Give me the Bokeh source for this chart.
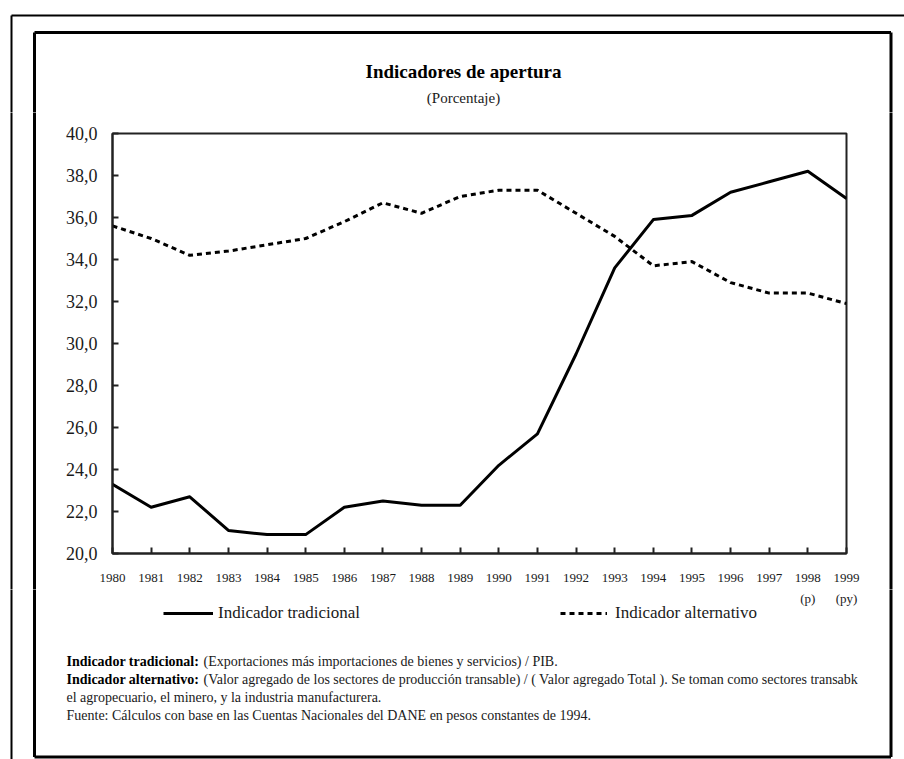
from bokeh.plotting import figure
from bokeh.layouts import column, row
from bokeh.models import FixedTicker, Label, Legend, LegendItem, ColumnDataSource, Range1d
from bokeh.embed import file_html
from bokeh.resources import INLINE

# ---------------- data ----------------
years = list(range(1980, 2000))
tradicional = [23.3, 22.2, 22.7, 21.1, 20.9, 20.9, 22.2, 22.5, 22.3, 22.3,
               24.2, 25.7, 29.5, 33.6, 35.9, 36.1, 37.2, 37.7, 38.2, 36.9]
alternativo = [35.6, 35.0, 34.2, 34.4, 34.7, 35.0, 35.8, 36.7, 36.2, 37.0,
               37.3, 37.3, 36.2, 35.1, 33.7, 33.9, 32.9, 32.4, 32.4, 31.9]
y_ticks = [20, 22, 24, 26, 28, 30, 32, 34, 36, 38, 40]
y_tick_labels = ["20,0", "22,0", "24,0", "26,0", "28,0", "30,0",
                 "32,0", "34,0", "36,0", "38,0", "40,0"]
x_sub_years = [1998, 1999]
x_sub_labels = ["(p)", "(py)"]
title_text = "Indicadores de apertura"
subtitle_text = "(Porcentaje)"
series_names = ["Indicador tradicional", "Indicador alternativo"]
note_bold = ["Indicador tradicional:", "Indicador alternativo:"]
note_rest = ["(Exportaciones más importaciones de bienes y servicios) / PIB.",
             "(Valor agregado de los sectores de producción transable) / ( Valor agregado Total ). Se toman como sectores transabk"]
note_lines = ["el agropecuario, el minero, y la industria manufacturera.",
              "Fuente: Cálculos con base en las Cuentas Nacionales del DANE en pesos constantes de 1994."]

SERIF = "Liberation Serif"
INK = "#1a1a1a"
W = 904
HEAD_H, MID_H, FOOT_H = 112, 477, 170
MID_Y0 = HEAD_H
FOOT_Y0 = HEAD_H + MID_H
LEFT_W, RIGHT_W = 45, 34
CHART_W = W - LEFT_W - RIGHT_W
FRAME_L, FRAME_R, FRAME_T, FRAME_B = 112, 846, 133, 553   # chart frame (page px)
OUT_X, OUT_Y = 11, 15                                      # outer page lines
IN_X0, IN_Y0, IN_X1, IN_Y1 = 34, 32, 890.5, 756.5          # inner page box


def blank(width, height, xr, yr):
    f = figure(width=width, height=height, output_backend="svg", toolbar_location=None,
               x_range=xr, y_range=yr, x_axis_type=None, y_axis_type=None,
               min_border=0, frame_align=False)
    f.outline_line_color = None
    f.background_fill_color = "white"
    f.border_fill_color = "white"
    f.xgrid.visible = False
    f.ygrid.visible = False
    return f


# ---------------- header ----------------
head = blank(W, HEAD_H, Range1d(0, W), Range1d(HEAD_H, 0))
head.segment(x0=[OUT_X, OUT_X], y0=[OUT_Y, OUT_Y], x1=[W + 5, OUT_X], y1=[OUT_Y, HEAD_H + 5],
             line_color="black", line_width=2)
head.segment(x0=[IN_X0, IN_X0, IN_X1], y0=[IN_Y0, IN_Y0, IN_Y0], x1=[IN_X1, IN_X0, IN_X1],
             y1=[IN_Y0, HEAD_H + 5, HEAD_H + 5], line_color="black", line_width=3)
head.add_layout(Label(x=463, y=71, text=title_text, text_font=SERIF, text_font_size="19px",
                      text_font_style="bold", text_color="black",
                      text_align="center", text_baseline="middle"))
head.add_layout(Label(x=463, y=97, text=subtitle_text, text_font=SERIF, text_font_size="15px",
                      text_color=INK, text_align="center", text_baseline="middle"))

# ---------------- side strips ----------------
left = blank(LEFT_W, MID_H, Range1d(0, LEFT_W), Range1d(MID_H, 0))
left.segment(x0=[OUT_X], y0=[-5], x1=[OUT_X], y1=[MID_H + 5], line_color="black", line_width=2)
left.segment(x0=[IN_X0], y0=[-5], x1=[IN_X0], y1=[MID_H + 5], line_color="black", line_width=3)
right = blank(RIGHT_W, MID_H, Range1d(0, RIGHT_W), Range1d(MID_H, 0))
rx = IN_X1 - (W - RIGHT_W)
right.segment(x0=[rx], y0=[-5], x1=[rx], y1=[MID_H + 5], line_color="black", line_width=3)

# ---------------- chart ----------------
p = figure(width=CHART_W, height=MID_H, output_backend="svg", toolbar_location=None,
           x_range=(years[0], years[-1]), y_range=(y_ticks[0], y_ticks[-1]),
           min_border_left=FRAME_L - LEFT_W, min_border_right=(W - RIGHT_W) - FRAME_R,
           min_border_top=FRAME_T - MID_Y0, min_border_bottom=FOOT_Y0 - FRAME_B,
           frame_align=False)
p.background_fill_color = "white"
p.border_fill_color = "white"
p.outline_line_color = "#222222"
p.outline_line_width = 2
p.xgrid.visible = False
p.ygrid.visible = False

src = ColumnDataSource(dict(year=years, trad=tradicional, alt=alternativo))
r1 = p.line("year", "trad", source=src, line_color="black", line_width=3, line_join="round")
r2 = p.line("year", "alt", source=src, line_color="black", line_width=3, line_dash="5 4")

for ax in (p.xaxis[0], p.yaxis[0]):
    ax.axis_line_color = "#222222"
    ax.axis_line_width = 2
    ax.major_tick_line_color = "#222222"
    ax.major_tick_line_width = 2
    ax.major_tick_in = 6
    ax.major_tick_out = 0
    ax.minor_tick_line_color = None
    ax.major_label_text_font = SERIF
    ax.major_label_text_color = INK

p.yaxis.ticker = FixedTicker(ticks=y_ticks)
p.yaxis.major_label_overrides = {t: l for t, l in zip(y_ticks, y_tick_labels)}
p.yaxis.major_label_text_font_size = "18px"
p.yaxis.major_label_standoff = 15

p.xaxis.ticker = FixedTicker(ticks=years)
p.xaxis.major_label_overrides = {y: str(y) for y in years}
p.xaxis.major_label_text_font_size = "13px"
p.xaxis.major_label_standoff = 20

# ---------------- footer ----------------
px_per_year = (FRAME_R - FRAME_L) / (years[-1] - years[0])
foot = blank(W, FOOT_H,
             Range1d(years[0] - FRAME_L / px_per_year, years[-1] + (W - FRAME_R) / px_per_year),
             Range1d(FOOT_H, 0))
foot.extra_x_ranges = {"px": Range1d(0, W)}
foot.segment(x0=[OUT_X], y0=[-5], x1=[OUT_X], y1=[FOOT_H + 5], x_range_name="px",
             line_color="black", line_width=2)
by = IN_Y1 - FOOT_Y0
foot.segment(x0=[IN_X0, IN_X1, IN_X0], y0=[-5, -5, by], x1=[IN_X0, IN_X1, IN_X1], y1=[by, by, by],
             x_range_name="px", line_color="black", line_width=3)

for yr, lab in zip(x_sub_years, x_sub_labels):
    foot.add_layout(Label(x=yr, y=598 - FOOT_Y0, text=lab, text_font=SERIF, text_font_size="13px",
                          text_color=INK, text_align="center", text_baseline="middle"))

nan = float("nan")
e1 = foot.line(x=[nan, nan], y=[nan, nan], line_color="black", line_width=3)
e2 = foot.line(x=[nan, nan], y=[nan, nan], line_color="black", line_width=3, line_dash="5 4")
for r, name, lx, gw, so in ((e1, series_names[0], 163, 50, 5), (e2, series_names[1], 560, 47, 8)):
    lg = Legend(items=[LegendItem(label=name, renderers=[r])], location=(lx, FOOT_H - 34),
                orientation="horizontal", padding=0, margin=0, spacing=0,
                glyph_width=gw, glyph_height=20, label_standoff=so, label_height=20,
                border_line_color=None, background_fill_alpha=0,
                label_text_font=SERIF, label_text_font_size="17px", label_text_color=INK)
    foot.add_layout(lg)

ny0 = 661 - FOOT_Y0
for i, (b, rest) in enumerate(zip(note_bold, note_rest)):
    foot.add_layout(Label(x=66, y=ny0 + 18 * i, x_units="screen", text=b,
                          text_font=SERIF, text_font_size="14px", text_font_style="bold",
                          text_color="black", text_baseline="middle"))
    foot.add_layout(Label(x=203, y=ny0 + 18 * i, x_units="screen", text=rest,
                          text_font=SERIF, text_font_size="14px",
                          text_color=INK, text_baseline="middle"))
for j, t in enumerate(note_lines):
    foot.add_layout(Label(x=66, y=ny0 + 36 + 18 * j, x_units="screen", text=t,
                          text_font=SERIF, text_font_size="14px",
                          text_color=INK, text_baseline="middle"))

layout = column(head, row(left, p, right), foot)
open("out.html", "w").write(file_html(layout, INLINE))
